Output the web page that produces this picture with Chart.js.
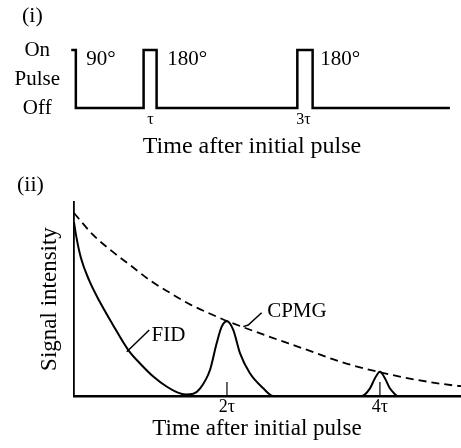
<!DOCTYPE html>
<html>
<head>
<meta charset="utf-8">
<script src="https://cdn.jsdelivr.net/npm/chart.js@4.4.1/dist/chart.umd.min.js"></script>
<style>
html,body{margin:0;padding:0;background:#fff;}
#wrap{position:relative;width:461px;height:448px;overflow:hidden;}
#pulseChart{position:absolute;left:0;top:0;}
#signalChart{position:absolute;left:0;top:165px;}
</style>
</head>
<body>
<div id="wrap">
<canvas id="pulseChart" width="461" height="165"></canvas>
<canvas id="signalChart" width="461" height="283"></canvas>
</div>
<script>
// (i) pulse sequence, time in units of tau, level 0 = off / 1 = on
const pulseTime  = [-0.036, -0.036, 0.024, 0.024, 0.91, 0.91, 1.08, 1.08, 2.92, 2.92, 3.12, 3.12, 4.915];
const pulseLevel = [0, 1, 1, 0, 0, 1, 1, 0, 0, 1, 1, 0, 0];
const pulseLevelTicks  = [0, 0.5, 1];
const pulseLevelLabels = ['Off', 'Pulse', 'On'];
const pulseTimeTicks  = [1, 3];
const pulseTimeLabels = ['τ', '3τ'];
const pulseNames = ['90°', '180°', '180°'];

// (ii) signal intensity after the 90 pulse
const fidTime   = [0, 0.026, 0.09, 0.2, 0.33, 0.5, 0.71, 0.87, 1.04, 1.21, 1.35, 1.46, 1.56, 1.647, 1.778, 1.865, 1.931, 2.0, 2.082, 2.17, 2.3, 2.475, 2.605, 3.76, 3.87, 3.935, 4.0, 4.065, 4.13, 4.22];
const fidSignal = [0.95, 0.88, 0.755, 0.63, 0.52, 0.395, 0.251, 0.175, 0.105, 0.052, 0.02, 0.008, 0.012, 0.04, 0.142, 0.288, 0.379, 0.408, 0.361, 0.234, 0.124, 0.042, 0, 0, 0.042, 0.097, 0.133, 0.097, 0.042, 0];
const cpmgTime   = [0, 0.25, 0.5, 0.75, 1, 1.25, 1.5, 1.75, 2, 2.5, 3, 3.5, 4, 4.5, 5, 5.06];
const cpmgSignal = [1.0, 0.88, 0.79, 0.71, 0.63, 0.565, 0.504, 0.455, 0.41, 0.332, 0.259, 0.185, 0.13, 0.087, 0.056, 0.054];
const signalTimeTicks  = [2, 4];
const signalTimeLabels = ['2τ', '4τ'];

const serif = 'Liberation Serif';
Chart.defaults.font.family = serif;
Chart.defaults.color = '#000';

const xy = (xs, ys) => xs.map((v, i) => ({x: v, y: ys[i]}));

// text, leader lines, inner tick marks, panel label and x title
const notes = {
  id: 'notes',
  afterDatasetsDraw(chart, args, opts) {
    const ctx = chart.ctx;
    const x = chart.scales.x, y = chart.scales.y;
    ctx.save();
    ctx.fillStyle = '#000';
    ctx.strokeStyle = '#000';
    (opts.lines || []).forEach(l => {
      ctx.lineWidth = 1.5;
      ctx.beginPath();
      l.forEach((p, i) => {
        const px = x.getPixelForValue(p[0]), py = y.getPixelForValue(p[1]);
        if (i) ctx.lineTo(px, py); else ctx.moveTo(px, py);
      });
      ctx.stroke();
    });
    (opts.ticks || []).forEach(v => {
      const px = x.getPixelForValue(v);
      ctx.lineWidth = 1.2;
      ctx.beginPath();
      ctx.moveTo(px, y.bottom);
      ctx.lineTo(px, y.bottom - 14);
      ctx.stroke();
    });
    (opts.texts || []).forEach(t => {
      ctx.font = '21px "' + serif + '"';
      ctx.textAlign = t.align || 'center';
      ctx.textBaseline = t.baseline || 'middle';
      ctx.fillText(t.text, x.getPixelForValue(t.x), y.getPixelForValue(t.y));
    });
    if (opts.panel) {
      ctx.font = '22px "' + serif + '"';
      ctx.textAlign = 'left';
      ctx.textBaseline = 'alphabetic';
      ctx.fillText(opts.panel.text, opts.panel.x, opts.panel.y);
    }
    if (opts.xTitle) {
      ctx.font = opts.xTitle.size + 'px "' + serif + '"';
      ctx.textAlign = 'center';
      ctx.textBaseline = 'alphabetic';
      ctx.fillText(opts.xTitle.text, opts.xTitle.x, opts.xTitle.y);
    }
    ctx.restore();
  }
};

const pick = (vals, labels) => v => {
  const i = vals.indexOf(v);
  return i < 0 ? '' : labels[i];
};

new Chart(document.getElementById('pulseChart'), {
  type: 'line',
  data: {
    datasets: [{
      data: xy(pulseTime, pulseLevel),
      borderColor: '#000',
      borderWidth: 2.5,
      borderJoinStyle: 'miter',
      pointRadius: 0,
      tension: 0,
      clip: false
    }]
  },
  options: {
    responsive: false,
    animation: false,
    layout: {padding: {top: 50, left: 0, right: 0, bottom: 0}},
    plugins: {
      legend: {display: false},
      tooltip: {enabled: false},
      notes: {
        panel: {text: '(i)', x: 22, y: 22},
        xTitle: {text: 'Time after initial pulse', size: 24, x: 252, y: 153},
        texts: pulseNames.map((n, i) => ({text: n, x: [0.16, 1.22, 3.22][i], y: 0.74, align: 'left', baseline: 'alphabetic'}))
      }
    },
    scales: {
      x: {
        type: 'linear', min: 0, max: 5.06,
        grid: {display: false, drawTicks: false},
        border: {display: false},
        afterBuildTicks: s => { s.ticks = pulseTimeTicks.map(v => ({value: v})); },
        afterFit: s => { s.height = 57; },
        ticks: {font: {size: 16}, padding: 2, callback: pick(pulseTimeTicks, pulseTimeLabels)}
      },
      y: {
        min: 0, max: 1,
        grid: {display: false, drawTicks: false},
        border: {display: false},
        afterBuildTicks: s => { s.ticks = pulseLevelTicks.map(v => ({value: v})); },
        afterFit: s => { s.width = 74; },
        ticks: {font: {size: 21}, crossAlign: 'center', padding: 14, callback: pick(pulseLevelTicks, pulseLevelLabels)}
      }
    }
  },
  plugins: [notes]
});

new Chart(document.getElementById('signalChart'), {
  type: 'line',
  data: {
    datasets: [{
      label: 'FID',
      data: xy(fidTime, fidSignal),
      borderColor: '#000',
      borderWidth: 2,
      pointRadius: 0,
      cubicInterpolationMode: 'monotone',
      clip: false
    }, {
      label: 'CPMG',
      data: xy(cpmgTime, cpmgSignal),
      borderColor: '#000',
      borderWidth: 1.8,
      borderDash: [8, 5],
      pointRadius: 0,
      cubicInterpolationMode: 'monotone',
      clip: false
    }]
  },
  options: {
    responsive: false,
    animation: false,
    layout: {padding: {top: 37, left: 0, right: 0, bottom: 0}},
    plugins: {
      legend: {display: false},
      tooltip: {enabled: false},
      notes: {
        panel: {text: '(ii)', x: 17, y: 26},
        xTitle: {text: 'Time after initial pulse', size: 23, x: 257, y: 270},
        ticks: signalTimeTicks,
        lines: [
          [[0.69, 0.242], [0.984, 0.361]],
          [[2.213, 0.379], [2.278, 0.388], [2.453, 0.455]]
        ],
        texts: [
          {text: 'FID', x: 1.235, y: 0.333},
          {text: 'CPMG', x: 2.915, y: 0.462}
        ]
      }
    },
    scales: {
      x: {
        type: 'linear', min: 0, max: 5.06,
        grid: {display: false, drawTicks: false},
        border: {display: true, color: '#000', width: 2.6},
        afterBuildTicks: s => { s.ticks = signalTimeTicks.map(v => ({value: v})); },
        afterFit: s => { s.height = 52; },
        ticks: {font: {size: 18}, padding: 0, callback: pick(signalTimeTicks, signalTimeLabels)}
      },
      y: {
        min: 0, max: 1.06,
        grid: {display: false, drawTicks: false},
        border: {display: true, color: '#000', width: 1.8},
        ticks: {display: false},
        afterFit: s => { s.width = 74; },
        title: {display: true, text: 'Signal intensity', font: {size: 23}, padding: {top: 36, bottom: 0}}
      }
    }
  },
  plugins: [notes]
});
</script>
</body>
</html>
